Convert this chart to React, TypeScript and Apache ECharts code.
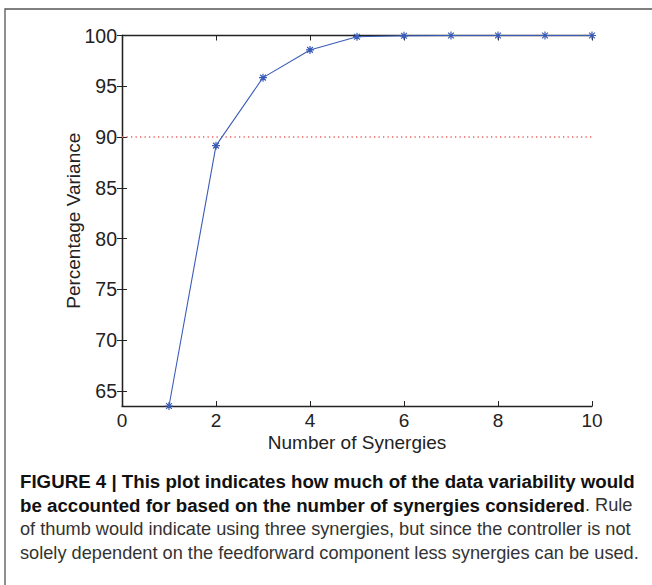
import React, { useEffect, useRef } from "react";
import * as echarts from "echarts";

const synergies = [1, 2, 3, 4, 5, 6, 7, 8, 9, 10];
const variance = [63.5, 89.15, 95.85, 98.58, 99.88, 99.97, 100, 100, 100, 100];
const thresholdValue = 90;
const xRange = [0, 10];
const yTicks = [65, 70, 75, 80, 85, 90, 95, 100];
const captionLines = [
  "FIGURE 4 | This plot indicates how much of the data variability would",
  "be accounted for based on the number of synergies considered",
  ". Rule",
  "of thumb would indicate using three synergies, but since the controller is not",
  "solely dependent on the feedforward component less synergies can be used.",
];

const BLUE = "#3a5cb8";
const FONT = "'Liberation Sans', Arial, Helvetica, sans-serif";
const CAP = 18.2;
const CAPB = 18.7;

export default function App() {
  const ref = useRef<HTMLDivElement>(null);
  useEffect(() => {
    document.body.style.margin = "0";
    const chart = echarts.init(ref.current!, null, { renderer: "svg" });
    const axisLine = { show: true, lineStyle: { color: "#222", width: 1.3 } };
    const tick = { show: true, inside: true, length: 5, lineStyle: { color: "#222", width: 1 } };
    const asterisk =
      "path://M0,-5L0,5M-5,0L5,0M-3.6,-3.6L3.6,3.6M-3.6,3.6L3.6,-3.6";
    chart.setOption({
      animation: false,
      backgroundColor: "#fff",
      grid: { left: 122, top: 35.5, right: 60, bottom: 179 },
      xAxis: [
        {
          type: "value",
          min: xRange[0],
          max: xRange[1],
          interval: 2,
          position: "bottom",
          axisLine,
          axisTick: tick,
          splitLine: { show: false },
          axisLabel: { color: "#222", fontSize: 19, fontFamily: FONT, margin: 5 },
          name: "Number of Synergies",
          nameLocation: "middle",
          nameGap: 27,
          nameMoveOverlap: false,
          nameTextStyle: { color: "#222", fontSize: 19, fontFamily: FONT },
        },
        {
          type: "value",
          min: xRange[0],
          max: xRange[1],
          interval: 2,
          position: "top",
          axisLine,
          axisTick: tick,
          splitLine: { show: false },
          axisLabel: { show: false },
        },
      ],
      yAxis: [
        {
          type: "value",
          min: 63.5,
          max: 100,
          position: "left",
          axisLine,
          axisTick: { ...tick, customValues: yTicks },
          splitLine: { show: false },
          axisLabel: {
            color: "#222",
            fontSize: 19.5,
            fontFamily: FONT,
            margin: 5,
            customValues: yTicks,
          },
          name: "Percentage Variance",
          nameLocation: "middle",
          nameGap: 39,
          nameMoveOverlap: false,
          nameTextStyle: { color: "#222", fontSize: 19, fontFamily: FONT },
        },
        {
          type: "value",
          min: 63.5,
          max: 100,
          position: "right",
          axisLine,
          axisTick: { ...tick, customValues: yTicks },
          splitLine: { show: false },
          axisLabel: { show: false },
        },
      ],
      series: [
        {
          type: "line",
          data: [
            [xRange[0], thresholdValue],
            [xRange[1], thresholdValue],
          ],
          symbol: "none",
          lineStyle: { color: "#f06060", width: 1.3, type: [1.3, 3.2] },
          silent: true,
          z: 1,
        },
        {
          type: "line",
          data: synergies.map((s, i) => [s, variance[i]]),
          symbol: asterisk,
          symbolSize: 8,
          itemStyle: { color: BLUE, borderColor: BLUE, borderWidth: 1.2 },
          lineStyle: { color: BLUE, width: 1.1 },
          z: 3,
        },
      ],
      graphic: [
        {
          type: "rect",
          shape: { x: 5, y: 9, width: 800, height: 800 },
          style: { fill: "none", stroke: "#555", lineWidth: 1.3 },
          silent: true,
        },
        {
          type: "text",
          x: 20,
          y: 481,
          style: {
            text: captionLines[0],
            font: `bold ${CAPB}px ${FONT}`,
            fill: "#111",
            verticalAlign: "middle",
          },
        },
        {
          type: "text",
          x: 20,
          y: 505,
          style: {
            text: `{b|${captionLines[1]}}{n|${captionLines[2]}}`,
            verticalAlign: "middle",
            rich: {
              b: { font: `bold ${CAPB}px ${FONT}`, fill: "#111" },
              n: { font: `${CAP}px ${FONT}`, fill: "#333" },
            },
          },
        },
        {
          type: "text",
          x: 20,
          y: 529,
          style: {
            text: captionLines[3],
            font: `${CAP}px ${FONT}`,
            fill: "#333",
            verticalAlign: "middle",
          },
        },
        {
          type: "text",
          x: 20,
          y: 553,
          style: {
            text: captionLines[4],
            font: `${CAP}px ${FONT}`,
            fill: "#333",
            verticalAlign: "middle",
          },
        },
      ],
    });
    return () => chart.dispose();
  }, []);
  return <div ref={ref} style={{ width: 652, height: 585 }} />;
}
